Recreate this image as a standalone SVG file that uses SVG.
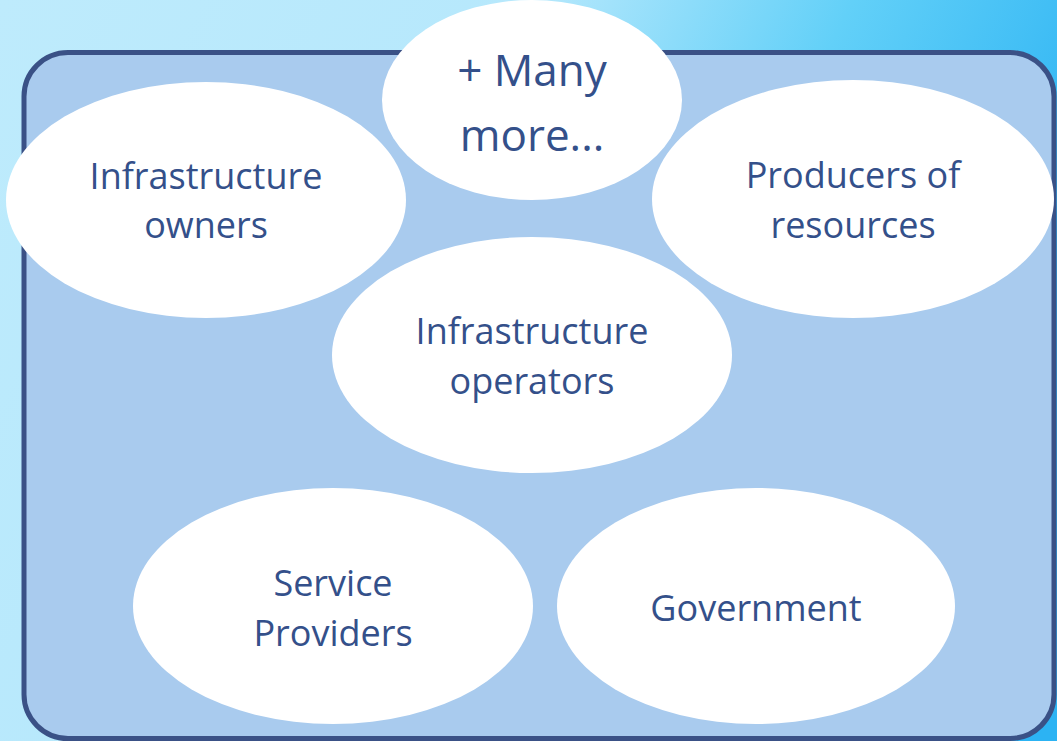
<svg xmlns="http://www.w3.org/2000/svg" width="1057" height="741" viewBox="0 0 1057 741">
<defs>
<linearGradient id="bg" x1="0" y1="0" x2="1" y2="0.35">
<stop offset="0" stop-color="#BEEBFC"/>
<stop offset="0.45" stop-color="#B6E8FC"/>
<stop offset="0.72" stop-color="#62D0F8"/>
<stop offset="1" stop-color="#2CB3F3"/>
</linearGradient>
<style>
.node ellipse{fill:#FFFFFF;}
.node text{font-family:"Open Sans","Noto Sans",sans-serif;font-size:36px;fill:#34508A;text-anchor:middle;}
.node text.big{font-size:44px;}
</style>
</defs>
<rect x="0" y="0" width="1057" height="741" fill="url(#bg)"/>
<rect id="frame" x="24" y="52.5" width="1030" height="686" rx="44" ry="44" fill="#A9CBEE" stroke="#3A5186" stroke-width="5"/>
<g id="connectors"></g>
<g id="owners" class="node">
<ellipse cx="206" cy="200" rx="200" ry="118"/>
<text x="206" y="189">Infrastructure</text>
<text x="206" y="238">owners</text>
</g>
<g id="more" class="node">
<ellipse cx="532" cy="100" rx="150" ry="100"/>
<text class="big" x="532" y="86">+ Many</text>
<text class="big" x="532" y="151">more...</text>
</g>
<g id="producers" class="node">
<ellipse cx="853" cy="199" rx="201" ry="119"/>
<text x="853" y="188">Producers of</text>
<text x="853" y="238">resources</text>
</g>
<g id="operators" class="node">
<ellipse cx="532" cy="355" rx="200" ry="118"/>
<text x="532" y="344">Infrastructure</text>
<text x="532" y="394">operators</text>
</g>
<g id="service" class="node">
<ellipse cx="333" cy="606" rx="200" ry="118"/>
<text x="333" y="596">Service</text>
<text x="333" y="646">Providers</text>
</g>
<g id="government" class="node">
<ellipse cx="756" cy="606" rx="199" ry="118"/>
<text x="756" y="621">Government</text>
</g>
</svg>
